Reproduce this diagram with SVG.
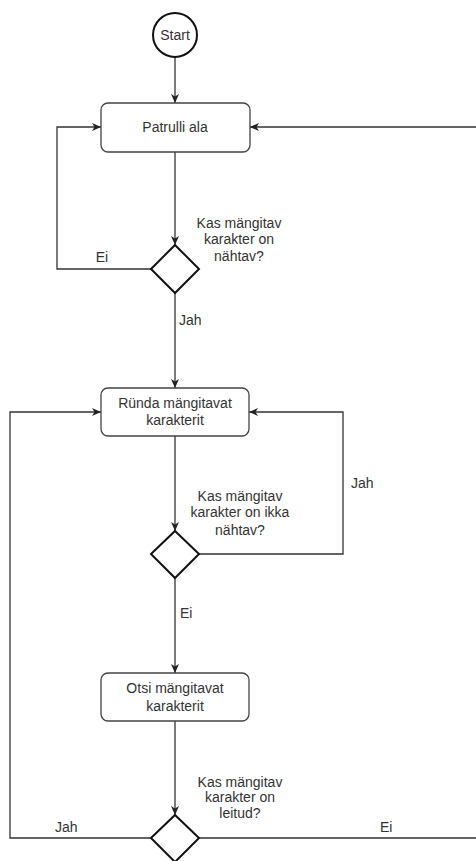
<svg xmlns="http://www.w3.org/2000/svg" width="476" height="861" viewBox="0 0 476 861">
  <defs>
    <marker id="arrow" markerUnits="userSpaceOnUse" markerWidth="10" markerHeight="10" refX="9" refY="4" orient="auto">
      <path d="M0,0 L9,4 L0,8 L2.5,4 Z" fill="#222"/>
    </marker>
    <style>
      .edge { fill: none; stroke: #333; stroke-width: 1.3; }
      .box { fill: #fff; stroke: #444; stroke-width: 1.3; }
      .shape { fill: #fff; stroke: #111; stroke-width: 2; }
      text { font-family: "Liberation Sans", Arial, sans-serif; font-size: 14px; fill: #333; }
      .c { text-anchor: middle; }
    </style>
  </defs>
  <rect width="476" height="861" fill="#fff"/>

  <!-- connectors -->
  <g id="connectors">
    <path class="edge" d="M175,57 L175,103" marker-end="url(#arrow)"/>
    <path class="edge" d="M175,152 L175,245" marker-end="url(#arrow)"/>
    <path class="edge" d="M151,269 L57,269 L57,127 L101,127" marker-end="url(#arrow)"/>
    <path class="edge" d="M175,293 L175,388" marker-end="url(#arrow)"/>
    <path class="edge" d="M175,436 L175,531" marker-end="url(#arrow)"/>
    <path class="edge" d="M199,554 L343,554 L343,412 L249,412" marker-end="url(#arrow)"/>
    <path class="edge" d="M175,578 L175,673" marker-end="url(#arrow)"/>
    <path class="edge" d="M175,721 L175,815" marker-end="url(#arrow)"/>
    <path class="edge" d="M151,838 L10,838 L10,412 L101,412" marker-end="url(#arrow)"/>
    <path class="edge" d="M199,838 L479,838 L479,127 L250,127" marker-end="url(#arrow)"/>

    <text x="102" y="262" class="c">Ei</text>
    <text x="179" y="325">Jah</text>
    <text x="351" y="488">Jah</text>
    <text x="180" y="618">Ei</text>
    <text x="55" y="832">Jah</text>
    <text x="380" y="832">Ei</text>
  </g>

  <!-- nodes -->
  <g id="start">
    <circle class="shape" cx="175" cy="35" r="22"/>
    <text x="175" y="40" class="c" font-size="13">Start</text>
  </g>

  <g id="patrol">
    <rect class="box" x="101" y="103" width="149" height="49" rx="7"/>
    <text x="175" y="132" class="c">Patrulli ala</text>
  </g>

  <g id="visible-check">
    <path class="shape" d="M175,245 L199,269 L175,293 L151,269 Z"/>
    <text x="239" y="228" class="c">Kas mängitav</text>
    <text x="239" y="244" class="c">karakter on</text>
    <text x="239" y="261" class="c">nähtav?</text>
  </g>

  <g id="attack">
    <rect class="box" x="101" y="388" width="148" height="48" rx="7"/>
    <text x="175" y="408" class="c">Ründa mängitavat</text>
    <text x="175" y="425" class="c">karakterit</text>
  </g>

  <g id="still-visible-check">
    <path class="shape" d="M175,531 L199,554 L175,578 L151,554 Z"/>
    <text x="240" y="501" class="c">Kas mängitav</text>
    <text x="240" y="517" class="c">karakter on ikka</text>
    <text x="240" y="535" class="c">nähtav?</text>
  </g>

  <g id="search">
    <rect class="box" x="101" y="673" width="148" height="48" rx="7"/>
    <text x="175" y="693" class="c">Otsi mängitavat</text>
    <text x="175" y="711" class="c">karakterit</text>
  </g>

  <g id="found-check">
    <path class="shape" d="M175,815 L199,838 L175,862 L151,838 Z"/>
    <text x="240" y="787" class="c">Kas mängitav</text>
    <text x="240" y="802" class="c">karakter on</text>
    <text x="240" y="818" class="c">leitud?</text>
  </g>
</svg>
